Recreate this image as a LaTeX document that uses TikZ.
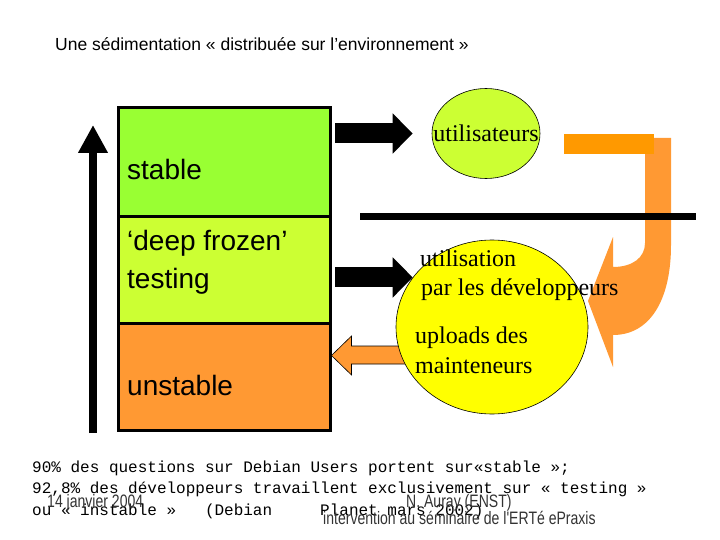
\documentclass[tikz,border=0pt]{standalone}
\usepackage{fontspec}
\setmainfont{Liberation Serif}
\setsansfont{Liberation Sans}
\setmonofont{Liberation Mono}
\newfontfamily\narrowfont[FakeStretch=0.78]{Liberation Sans}
\usepackage{tikz}
\usetikzlibrary{arrows.meta, positioning, shapes.geometric}

\definecolor{stablegreen}{HTML}{99FF33}
\definecolor{testinggreen}{HTML}{CCFF33}
\definecolor{unstableorange}{HTML}{FF9933}
\definecolor{barorange}{HTML}{FF9900}
\definecolor{devyellow}{HTML}{FFFF00}
\definecolor{footgray}{HTML}{333333}

\begin{document}
\begin{tikzpicture}[
    x=1pt, y=-1pt,
    tier/.style={draw, line width=3pt, inner sep=0pt, outer sep=0pt, minimum width=212pt},
    tiertext/.style={anchor=base west, inner sep=0pt, font=\sffamily\fontsize{28}{34}\selectfont},
    bubble/.style={ellipse, draw, line width=0.6pt, inner sep=0pt},
    bubbletext/.style={anchor=base west, inner sep=0pt, font=\fontsize{24}{28}\selectfont},
    monotext/.style={anchor=base west, inner sep=0pt, font=\ttfamily\fontsize{16}{16}\selectfont},
    foot/.style={anchor=base west, inner sep=0pt, text=footgray, font=\narrowfont\fontsize{18}{18}\selectfont},
    blockarr/.style={line width=20pt, -{Triangle[length=20pt, width=39pt]}},
    agearr/.style={line width=8pt, -{Triangle[length=28pt, width=28pt]}},
]
\useasboundingbox (0,0) rectangle (720,540);

% --- Titre ---
\node[anchor=base west, inner sep=0pt, font=\sffamily\fontsize{17.5}{20}\selectfont] (title) at (55,51) {Une sédimentation « distribuée sur l’environnement »};

% --- Pile des distributions ---
\node[tier, fill=stablegreen, minimum height=109pt] (stable) at (224,162.5) {};
\node[tier, fill=testinggreen, minimum height=106pt, below=0pt of stable] (testing) {};
\node[tier, fill=unstableorange, minimum height=107pt, below=0pt of testing] (unstable) {};

\node[tiertext] (stablelbl) at (127,180) {stable};
\node[tiertext] (frozenlbl) at (127,250) {‘deep frozen’};
\node[tiertext] (testinglbl) at (127,288) {testing};
\node[tiertext] (unstablelbl) at (127,395) {unstable};

% --- Fleche du vieillissement ---
\coordinate (agelow) at (93,433);
\coordinate (agehigh) at (93,125);
\draw[agearr] (agelow) -- (agehigh);

% --- Uploads vers unstable (sous la bulle) ---
\coordinate (uploadlvl) at (0,355.5);
\draw[fill=unstableorange, line width=0.6pt] ([xshift=1.5pt]unstable.east |- uploadlvl) -- ++(20,-19.5) -- ++(0,10) -- ++(57,0) -- ++(0,18) -- ++(-57,0) -- ++(0,11) -- cycle;

% --- Bulles ---
\node[bubble, fill=testinggreen, minimum width=108pt, minimum height=90pt] (users) at (486,133.5) {};
\node[inner sep=0pt, font=\fontsize{24}{28}\selectfont] (userslbl) at (users) {utilisateurs};
\node[bubble, fill=devyellow, minimum width=192pt, minimum height=174pt] (devs) at (492,327) {};

% --- Retour des utilisateurs ---
\fill[unstableorange] (645,138) -- (671,138) -- (671,245) .. controls (671,300) and (650,335) .. (613,335) -- (613,367) -- (588,301) -- (613,237) -- (613,267) .. controls (632,267) and (645,258) .. (645,243) -- cycle;
\fill[barorange] (564,134) rectangle (654,154);
\coordinate (lineleft) at (360,217);
\coordinate (lineright) at (696,217);
\draw[line width=7pt] (lineleft) -- (lineright);

\node[bubbletext] (devlbla) at (420,266) {utilisation};
\node[bubbletext] (devlblb) at (421,295) {par les développeurs};
\node[bubbletext] (maintlbla) at (415,343) {uploads des};
\node[bubbletext] (maintlblb) at (415,373) {mainteneurs};

% --- Flux vers les bulles ---
\draw[blockarr, shorten <=5pt, shorten >=19pt] (stable.east |- users.west) -- (users.west);
\draw[blockarr, shorten <=5pt] (testing.east |- devs.148) -- (devs.148);

% --- Chiffres ---
\node[monotext] (stat1) at (32,472) {90\% des questions sur Debian Users portent sur«stable »;};
\node[monotext] (stat2) at (32,493) {92,8\% des développeurs travaillent exclusivement sur « testing »};
\node[monotext] (stat3) at (32,515) {ou « instable »\ \ \ (Debian\ \ \ \ \ Planet mars 2002)};

% --- Pied de page ---
\node[foot] (date) at (47,507) {14 janvier 2004};
\node[foot] (author) at (406,507) {N. Auray (ENST)};
\node[foot] (event) at (323,524) {intervention au séminaire de l'ERTé ePraxis};

\end{tikzpicture}
\end{document}
